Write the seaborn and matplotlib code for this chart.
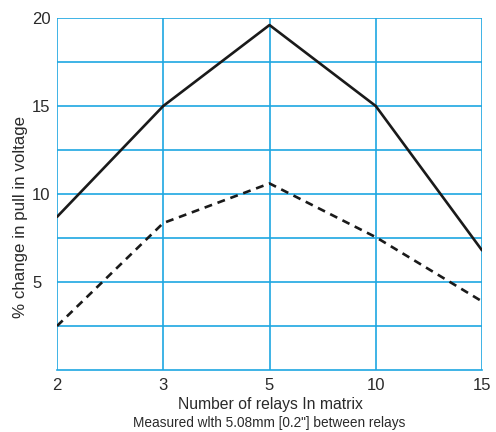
import matplotlib
matplotlib.use("Agg")
import matplotlib.pyplot as plt
import seaborn as sns
import pandas as pd

relays = ["2", "3", "5", "10", "15"]
solid_vals = [8.7, 15.0, 19.6, 15.0, 6.8]
dashed_vals = [2.5, 8.35, 10.6, 7.55, 3.9]

sns.set_theme(style="white")
plt.rcParams['font.family'] = ['Liberation Sans', 'DejaVu Sans']

pos = list(range(len(relays)))
df = pd.DataFrame({
    "pos": pos * 2,
    "val": solid_vals + dashed_vals,
    "series": ["solid"] * len(relays) + ["dashed"] * len(relays),
})

fig = plt.figure(figsize=(4.96, 4.32), dpi=100)
ax = fig.add_axes([57/496, 62/432, 425/496, 352/432])

grid_c = "#1ea7e1"
txt_c = "#2a2a2a"
for y in [2.5, 5, 7.5, 10, 12.5, 15, 17.5, 20]:
    ax.axhline(y, color=grid_c, lw=1.2, zorder=1)
for x in pos:
    ax.axvline(x, color=grid_c, lw=1.2, zorder=1)

sns.lineplot(data=df[df.series == "solid"], x="pos", y="val", ax=ax,
             color="#1a1a1a", lw=1.9, zorder=3)
sns.lineplot(data=df[df.series == "dashed"], x="pos", y="val", ax=ax,
             color="#1a1a1a", lw=1.9, linestyle=(0, (3.0, 2.2)), zorder=3)

ax.set_xlim(0, len(relays) - 1)
ax.set_ylim(0, 20)
ax.set_xticks(pos)
ax.set_xticklabels(relays)
ax.set_yticks([5, 10, 15, 20])
ax.set_yticklabels(["5", "10", "15", "20"])
ax.tick_params(axis="both", length=0, labelsize=12, colors=txt_c)
ax.tick_params(axis="y", pad=18)
ax.tick_params(axis="x", pad=6)
for lab in ax.get_yticklabels():
    lab.set_horizontalalignment("left")
for s in ["top", "right", "left"]:
    ax.spines[s].set_visible(False)
ax.spines["bottom"].set_color(grid_c)
ax.spines["bottom"].set_linewidth(1.2)

ax.set_xlabel("")
ax.set_ylabel("")
fig.text(270/496, 1 - 405/432, "Number of relays In matrix",
         ha="center", va="center", fontsize=11.3, color=txt_c)
fig.text(21/496, 1 - 217/432, "% change in pull in voltage",
         ha="center", va="center", rotation=90, fontsize=12.2, color=txt_c)
fig.text(269/496, 1 - 423/432, 'Measured wlth 5.08mm [0.2"] between relays',
         ha="center", va="center", fontsize=9.8, color=txt_c)

fig.savefig("out.png", dpi=100, facecolor="white")
